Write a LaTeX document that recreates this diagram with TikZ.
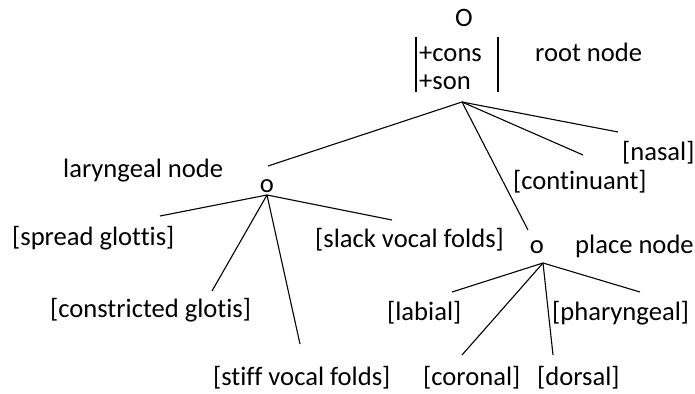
\documentclass[tikz,border=0pt]{standalone}
\usepackage{fontspec}
\setmainfont{Carlito}[Ligatures={NoCommon}]
\begin{document}
\begin{tikzpicture}[x=1pt,y=-1pt,
  lbl/.style={inner sep=0pt,anchor=base west,font=\fontsize{26.6}{28}\selectfont},
  ctr/.style={inner sep=0pt,anchor=base,font=\fontsize{26.6}{28}\selectfont},
  edge/.style={line width=1.1pt,black}]
\useasboundingbox (0,0) rectangle (695,393);
% root
\node[ctr] (O) at (464,27) {O};
\node[lbl] (cons) at (419,62) {+cons};
\node[lbl] (son) at (419,90) {+son};
\node[lbl] (rootlbl) at (535,62) {root node};
\coordinate (bl1) at (416,37); \coordinate (bl2) at (416,92);
\coordinate (br1) at (498,37); \coordinate (br2) at (498,92);
\draw[edge] (bl1) -- (bl2);
\draw[edge] (br1) -- (br2);
\coordinate (rj) at (462,102);
% laryngeal
\node[lbl] (larlbl) at (63,177) {laryngeal node};
\node[ctr] (laro) at (267,192) {o};
\coordinate (lj) at (267,195);
\coordinate (lt) at (268,166);
\node[lbl] (spread) at (12,245) {[spread glottis]};
\node[lbl] (constr) at (50,317) {[constricted glotis]};
\node[lbl] (stiff) at (213,385) {[stiff vocal folds]};
\node[lbl] (slack) at (315,247) {[slack vocal folds]};
\coordinate (e1) at (160,216);
\coordinate (e2) at (212,291);
\coordinate (e3) at (300,344);
\coordinate (e4) at (392,220);
% place
\node[ctr] (plo) at (537,253) {o};
\node[lbl] (pllbl) at (575,253) {place node};
\coordinate (pj) at (543,263);
\coordinate (pt) at (528,230);
\node[lbl] (labial) at (387,320) {[labial]};
\node[lbl] (phar) at (552,320) {[pharyngeal]};
\node[lbl] (coronal) at (423,385) {[coronal]};
\node[lbl] (dorsal) at (537,385) {[dorsal]};
\coordinate (p1) at (452,292);
\coordinate (p2) at (462,355);
\coordinate (p3) at (553,355);
\coordinate (p4) at (640,292);
% other features
\node[lbl] (nasal) at (622,160) {[nasal]};
\node[lbl] (cont) at (513,189) {[continuant]};
\coordinate (n1) at (618,132);
\coordinate (c1) at (583,155);
% connectors
\draw[edge] (rj) -- (lt);
\draw[edge] (rj) -- (pt);
\draw[edge] (rj) -- (c1);
\draw[edge] (rj) -- (n1);
\draw[edge] (lj) -- (e1);
\draw[edge] (lj) -- (e2);
\draw[edge] (lj) -- (e3);
\draw[edge] (lj) -- (e4);
\draw[edge] (pj) -- (p1);
\draw[edge] (pj) -- (p2);
\draw[edge] (pj) -- (p3);
\draw[edge] (pj) -- (p4);
\end{tikzpicture}
\end{document}
